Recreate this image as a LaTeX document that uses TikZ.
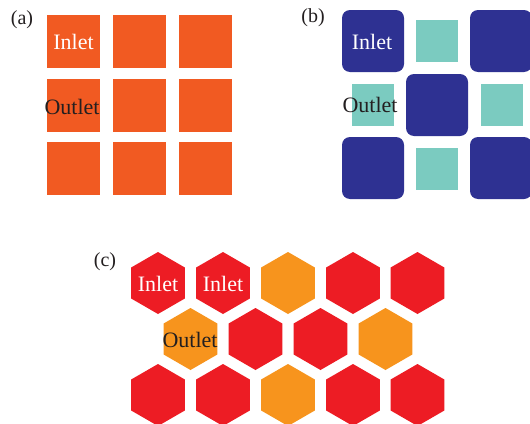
\documentclass[tikz,border=0pt]{standalone}
\usepackage{fontspec}
\setmainfont{Liberation Serif}
\usetikzlibrary{shapes.geometric}
\definecolor{cellorange}{HTML}{F15A22}
\definecolor{cellnavy}{HTML}{2E3192}
\definecolor{cellteal}{HTML}{7BCBC0}
\definecolor{hexred}{HTML}{ED1C24}
\definecolor{hexorange}{HTML}{F7941D}
\definecolor{inktext}{HTML}{231F20}
\tikzset{
  sqcell/.style={rectangle, fill=cellorange, inner sep=0pt, minimum size=53pt},
  bigcell/.style={rectangle, fill=cellnavy, rounded corners=8pt, inner sep=0pt, minimum size=62pt},
  smallcell/.style={rectangle, fill=cellteal, inner sep=0pt, minimum size=42pt},
  hexcell/.style={regular polygon, regular polygon sides=6, shape border rotate=30, inner sep=0pt, minimum size=62pt},
  redhex/.style={hexcell, fill=hexred},
  orangehex/.style={hexcell, fill=hexorange},
  inlettext/.style={text=white, font=\fontsize{22}{24}\selectfont, inner sep=0pt},
  outlettext/.style={text=inktext, font=\fontsize{22}{24}\selectfont, inner sep=0pt},
  paneltag/.style={text=inktext, font=\fontsize{20}{22}\selectfont, inner sep=0pt}
}
\begin{document}
\begin{tikzpicture}[x=1pt,y=-1pt]
\useasboundingbox (0,0) rectangle (530,423);
\fill[white] (0,0) rectangle (530,423);

% (a) square cells
\node[paneltag] (tagA) at (22,20) {(a)};
\foreach \c/\x in {1/73.5,2/139.5,3/205.5}
  \foreach \r/\y in {1/41.5,2/105.5,3/168.5}
    \node[sqcell] (a\r\c) at (\x,\y) {};
\node[inlettext] (inA) at (a11) {Inlet};
\node[outlettext] (outA) at (72,107) {Outlet};

% (b) rounded blocks with small square gaps
\node[paneltag] (tagB) at (313,18) {(b)};
\node[bigcell] (b1) at (373,41) {};
\node[bigcell] (b2) at (501,41) {};
\node[bigcell] (b3) at (437,105) {};
\node[bigcell] (b4) at (373,168) {};
\node[bigcell] (b5) at (501,168) {};
\node[smallcell] (s1) at (437,41) {};
\node[smallcell] (s2) at (373,105) {};
\node[smallcell] (s3) at (502,105) {};
\node[smallcell] (s4) at (437,169) {};
\node[inlettext] (inB) at (372,42) {Inlet};
\node[outlettext] (outB) at (370,105) {Outlet};

% (c) hexagonal cells
\node[paneltag] (tagC) at (105,262) {(c)};
\node[redhex] (h11) at (158,283) {};
\node[redhex] (h12) at (223,283) {};
\node[orangehex] (h13) at (288,283) {};
\node[redhex] (h14) at (353,283) {};
\node[redhex] (h15) at (417.5,283) {};
\node[orangehex] (h21) at (190.5,339) {};
\node[redhex] (h22) at (255.5,339) {};
\node[redhex] (h23) at (320.5,339) {};
\node[orangehex] (h24) at (385.5,339) {};
\node[redhex] (h31) at (158,395) {};
\node[redhex] (h32) at (223,395) {};
\node[orangehex] (h33) at (288,395) {};
\node[redhex] (h34) at (353,395) {};
\node[redhex] (h35) at (417.5,395) {};
\node[inlettext] (inC1) at (158,284) {Inlet};
\node[inlettext] (inC2) at (223,284) {Inlet};
\node[outlettext] (outC) at (190,340) {Outlet};
\end{tikzpicture}
\end{document}
